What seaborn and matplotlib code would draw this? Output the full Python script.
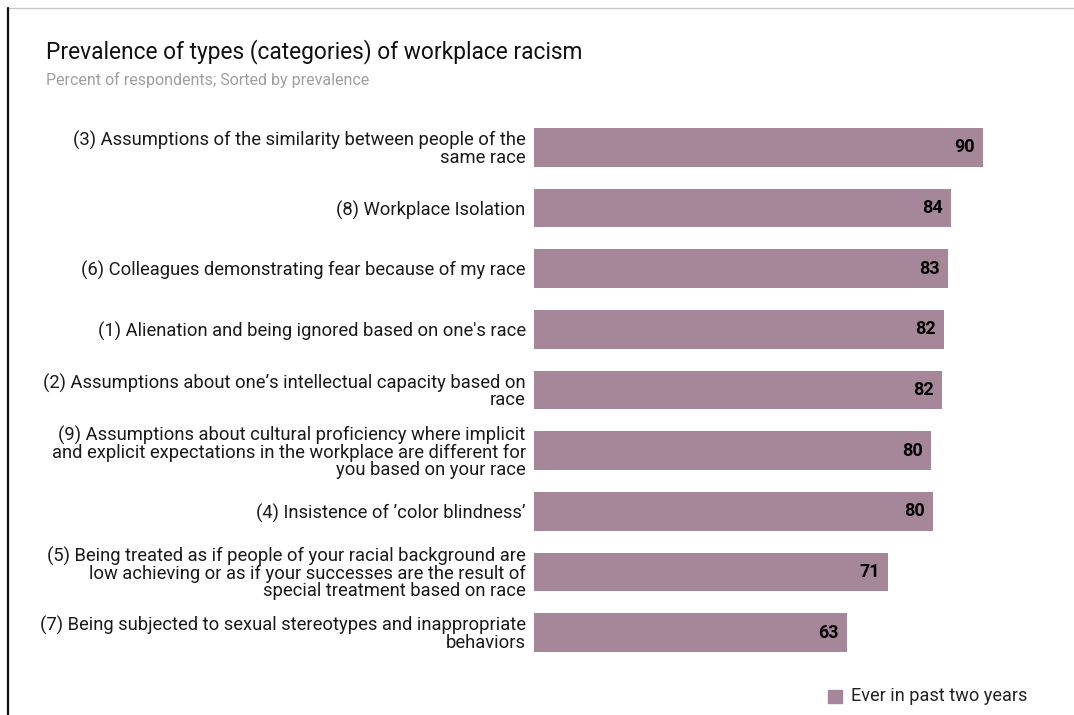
import matplotlib
matplotlib.use("Agg")
import matplotlib.pyplot as plt
import seaborn as sns
import pandas as pd
from matplotlib.lines import Line2D
from matplotlib.patches import Rectangle

categories = [
    "(3) Assumptions of the similarity between people of the\nsame race",
    "(8) Workplace Isolation",
    "(6) Colleagues demonstrating fear because of my race",
    "(1) Alienation and being ignored based on one's race",
    "(2) Assumptions about one\u2019s intellectual capacity based on\nrace",
    "(9) Assumptions about cultural proficiency where implicit\nand explicit expectations in the workplace are different for\nyou based on your race",
    "(4) Insistence of \u2019color blindness\u2019",
    "(5) Being treated as if people of your racial background are\nlow achieving or as if your successes are the result of\nspecial treatment based on race",
    "(7) Being subjected to sexual stereotypes and inappropriate\nbehaviors",
]
values = [90.0, 83.6, 83.0, 82.2, 81.8, 79.6, 80.0, 70.9, 62.7]
series_name = "Ever in past two years"

title = "Prevalence of types (categories) of workplace racism"
subtitle = "Percent of respondents; Sorted by prevalence"

bar_color = "#a6879a"

sns.set_theme(style="white")
plt.rcParams["font.family"] = ["Roboto", "DejaVu Sans"]

df = pd.DataFrame({"category": categories, "value": values})

fig = plt.figure(figsize=(10.74, 7.15), dpi=100)
W, H = 1074, 715
ax_left, ax_right = 534, 1033
ax_top, ax_bottom = 117, 663
ax = fig.add_axes([ax_left / W, 1 - ax_bottom / H,
                   (ax_right - ax_left) / W, (ax_bottom - ax_top) / H])

sns.barplot(data=df, x="value", y="category", orient="h", color=bar_color,
            width=0.64, saturation=1, ax=ax)
ax.set_xlim(0, 100)
ax.set_xlabel("")
ax.set_ylabel("")
ax.set_xticks([])
ax.tick_params(axis="y", length=0, pad=6)
for lbl in ax.get_yticklabels():
    lbl.set_fontsize(13.2)
    lbl.set_color("#1a1a1a")
    lbl.set_linespacing(0.92)
for s in ax.spines.values():
    s.set_visible(False)

for patch, v in zip(ax.patches, values):
    patch.set_edgecolor("none")
    y = patch.get_y() + patch.get_height() / 2
    ax.text(patch.get_width() - 1.6, y, f"{v:.0f}", ha="right", va="center",
            fontsize=13, fontweight="bold", color="#000000")

fig.text(46 / W, 1 - 52 / H, title, fontsize=16.4, color="#111111",
         ha="left", va="center")
fig.text(46 / W, 1 - 80 / H, subtitle, fontsize=11.5, color="#9e9e9e",
         ha="left", va="center")

# legend
fig.add_artist(Rectangle((828 / W, 1 - 703 / H), 14 / W, 13 / H,
                         transform=fig.transFigure, color=bar_color))
fig.text(851 / W, 1 - 696 / H, series_name, fontsize=13.1, color="#222222",
         ha="left", va="center")

# frame edges
fig.add_artist(Line2D([8 / W, 1], [1 - 8 / H, 1 - 8 / H],
                      transform=fig.transFigure, color="#c8c8c8", lw=1))
fig.add_artist(Line2D([8 / W, 8 / W], [0, 1 - 8 / H],
                      transform=fig.transFigure, color="#111111", lw=1.6))

fig.savefig("out.png", dpi=100, facecolor="white")
